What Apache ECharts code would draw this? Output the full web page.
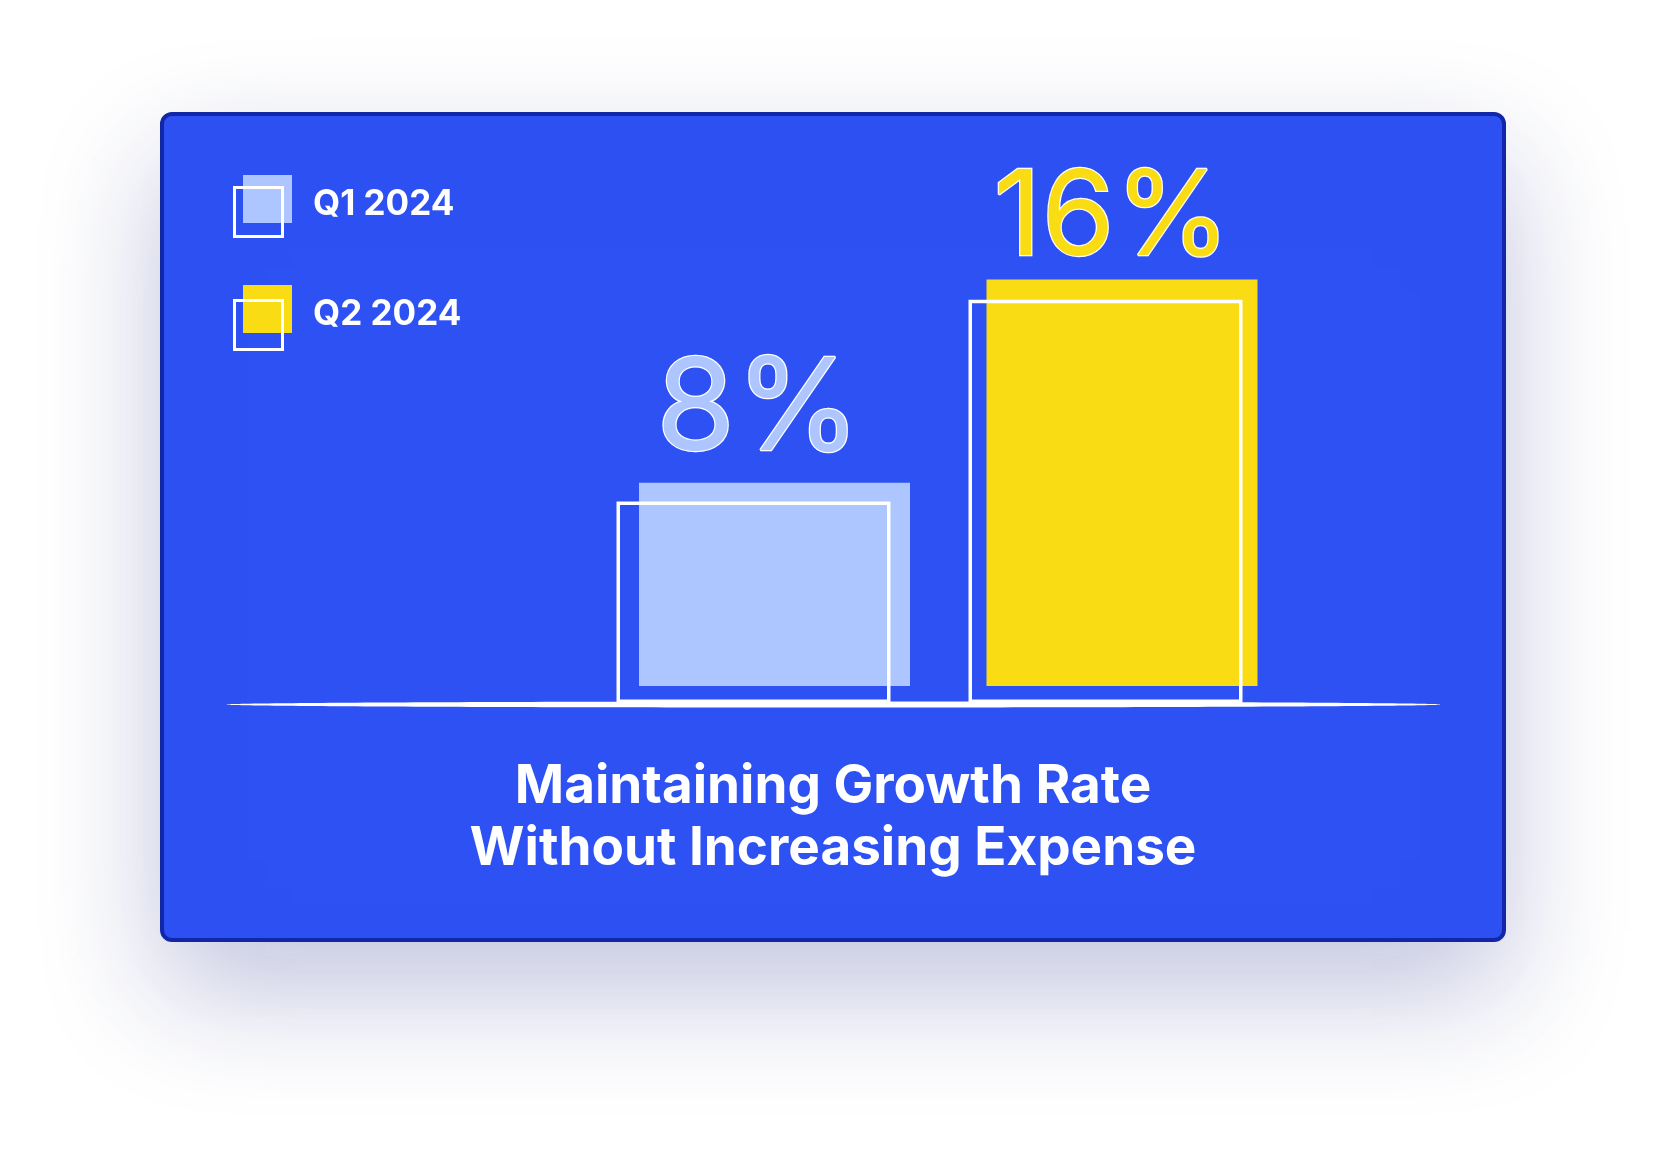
<!DOCTYPE html>
<html><head><meta charset="utf-8">
<script src="https://cdn.jsdelivr.net/npm/echarts@6/dist/echarts.min.js"></script>
<style>html,body{margin:0;padding:0;background:#fff}#c{width:1666px;height:1150px}</style>
</head><body><div id="c"></div>
<script>
const categories = ['Q1 2024', 'Q2 2024'];
const seriesNames = ['Q1 2024', 'Q2 2024'];
const values = [8, 16];
const titleLines = ['Maintaining Growth Rate', 'Without Increasing Expense'];

const fillColors = ['#adc6ff', '#fadc14'];
const labelSizes = [128, 118];
const labelDistances = [7, 1];
const labelOffsets = [[-16, 0], [-10, 0]];
const FONT = 'Inter';

const chart = echarts.init(document.getElementById('c'), null, {renderer: 'canvas'});

const series = [];
seriesNames.forEach((name, i) => {
  series.push({
    type: 'bar', name: name, xAxisIndex: 0, yAxisIndex: 0,
    barWidth: 271, barGap: '-100%', z: 2,
    itemStyle: {color: fillColors[i]},
    label: {
      show: true, position: 'top',
      formatter: '{c}%', fontFamily: FONT, fontWeight: 400,
      color: fillColors[i], textBorderColor: '#ffffff', textBorderWidth: 2.5
    },
    data: categories.map((c, j) => j === i
      ? {value: values[i], label: {fontSize: labelSizes[i], distance: labelDistances[i], offset: labelOffsets[i]}}
      : '-')
  });
});
seriesNames.forEach((name, i) => {
  series.push({
    type: 'bar', name: name, xAxisIndex: 1, yAxisIndex: 1,
    barWidth: 274, barGap: '-100%', z: 3,
    itemStyle: {color: 'rgba(0,0,0,0)', borderColor: '#ffffff', borderWidth: 3.5},
    data: categories.map((c, j) => j === i ? values[i] : '-')
  });
});

const option = {
  animation: false,
  backgroundColor: '#ffffff',
  title: {
    text: titleLines.join('\n'), left: 'center', top: 751,
    textStyle: {color: '#ffffff', fontFamily: FONT, fontWeight: 700, fontSize: 53, lineHeight: 62}
  },
  legend: [
    {
      data: seriesNames, orient: 'vertical', left: 243, top: 175, padding: 0,
      itemWidth: 49, itemHeight: 48, itemGap: 62, icon: 'rect', selectedMode: false, z: 4,
      formatter: '{t|{name}}',
      textStyle: {
        color: '#ffffff', fontFamily: FONT, fontWeight: 700, fontSize: 35,
        rich: {t: {color: '#ffffff', fontFamily: FONT, fontWeight: 700, fontSize: 35, padding: [11, 0, 0, 16]}}
      }
    },
    {
      data: seriesNames, orient: 'vertical', left: 233, top: 186, padding: 0,
      itemWidth: 48, itemHeight: 49, itemGap: 61, icon: 'rect', selectedMode: false, z: 5,
      itemStyle: {color: 'rgba(0,0,0,0)', borderColor: '#ffffff', borderWidth: 3},
      formatter: () => ''
    }
  ],
  grid: [
    {left: 600.75, top: 178, width: 695, height: 508},
    {left: 577.5, top: 199, width: 704, height: 504}
  ],
  xAxis: [
    {type: 'category', gridIndex: 0, data: categories, show: false},
    {type: 'category', gridIndex: 1, data: categories, show: false}
  ],
  yAxis: [
    {type: 'value', gridIndex: 0, min: 0, max: 20, show: false},
    {type: 'value', gridIndex: 1, min: 0, max: 20, show: false}
  ],
  graphic: [
    {
      type: 'rect', z: 0, silent: true,
      shape: {x: 162, y: 114, width: 1342, height: 826, r: 10},
      style: {fill: '#2d51f2', stroke: '#1226a8', lineWidth: 4,
              shadowBlur: 120, shadowOffsetY: 50, shadowColor: 'rgba(40,50,140,0.28)'}
    },
    {
      type: 'ellipse', z: 10, silent: true,
      shape: {cx: 833.5, cy: 704.5, rx: 607, ry: 3},
      style: {fill: '#ffffff'}
    }
  ],
  series: series
};
chart.setOption(option);
</script>
</body></html>
